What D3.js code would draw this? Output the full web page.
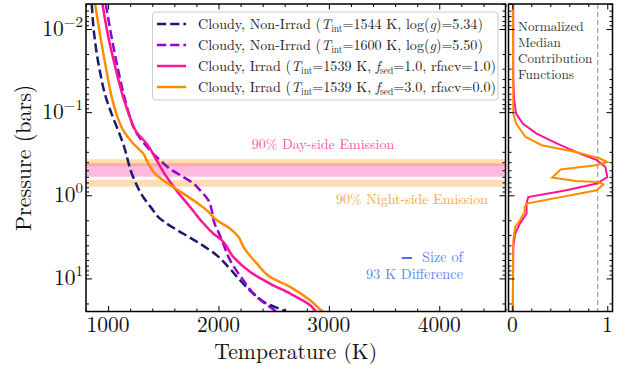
<!DOCTYPE html>
<html>
<head>
<meta charset="utf-8">
<script src="https://cdn.jsdelivr.net/npm/d3@7"></script>
<style>
    body { margin: 0; background: #fff; }
</style>
</head>
<body>
<svg id="chart" width="626" height="365"></svg>
<script>
'use strict';

// ---- data ----
var tempDomain = [800, 4600];
var pressureDomain = [0.005, 25];
var cfDomain = [-0.04, 1.055];

var tempTicks = [1000, 2000, 3000, 4000];
var pressureTicks = [0.01, 0.1, 1, 10];
var pressureExponents = ['\u22122', '\u22121', '0', '1'];
var cfTicks = [0, 1];
var cfMinorTicks = [0.2, 0.4, 0.6, 0.8];

var nonIrrad1544T = [852, 873, 918, 988, 1031, 1136, 1227, 1318, 1409, 1455, 1531, 1682, 1834, 1985, 2091, 2197, 2318, 2440, 2591, 2620];
var nonIrrad1544P = [0.005, 0.0112, 0.0284, 0.0718, 0.104, 0.238, 0.603, 1.05, 1.52, 1.83, 2.19, 2.90, 3.83, 5.28, 7.31, 10.6, 15.3, 20.2, 24.3, 25.5];

var nonIrrad1600T = [979, 1025, 1085, 1155, 1197, 1258, 1304, 1379, 1470, 1579, 1682, 1772, 1834, 1909, 1943, 1961, 2000, 2031, 2106, 2227, 2349, 2470, 2525, 2560];
var nonIrrad1600P = [0.005, 0.0112, 0.0284, 0.0718, 0.114, 0.179, 0.218, 0.287, 0.378, 0.500, 0.603, 0.718, 0.871, 1.15, 1.60, 2.12, 2.79, 3.48, 6.08, 10.6, 16.8, 22.2, 25.0, 26.5];

var irradFsed1T = [949, 995, 1064, 1145, 1197, 1258, 1349, 1440, 1531, 1630, 1743, 1840, 1955, 2031, 2136, 2288, 2470, 2652, 2834, 2895, 2930];
var irradFsed1P = [0.005, 0.0112, 0.0284, 0.0718, 0.114, 0.174, 0.238, 0.380, 0.603, 0.912, 1.38, 2.00, 2.90, 3.48, 5.55, 8.39, 11.6, 15.3, 21.2, 25.5, 27];

var irradFsed3T = [882, 925, 979, 1040, 1085, 1136, 1227, 1318, 1364, 1425, 1500, 1636, 1773, 1895, 1985, 2106, 2182, 2227, 2349, 2470, 2652, 2834, 2955, 2990];
var irradFsed3P = [0.005, 0.0112, 0.0284, 0.0718, 0.114, 0.165, 0.238, 0.315, 0.415, 0.548, 0.661, 0.871, 1.15, 1.52, 2.00, 2.52, 3.18, 4.20, 6.65, 9.64, 12.7, 18.4, 25.5, 27];

var cfFsed1P = [0.005, 0.0379, 0.0718, 0.104, 0.137, 0.181, 0.238, 0.315, 0.378, 0.456, 0.603, 0.723, 0.871, 1.05, 1.26, 1.66, 2.19, 2.90, 4.20, 25];
var cfFsed1 = [0.01, 0.01, 0.02, 0.04, 0.11, 0.256, 0.467, 0.712, 0.89, 0.98, 1.0, 0.89, 0.57, 0.168, 0.15, 0.15, 0.08, 0.03, 0.01, 0.005];

var cfFsed3P = [0.005, 0.103, 0.137, 0.199, 0.250, 0.301, 0.361, 0.397, 0.436, 0.490, 0.612, 0.673, 0.692, 0.738, 0.871, 1.26, 1.38, 1.59, 2.00, 2.41, 3.48, 25];
var cfFsed3 = [0.005, 0.01, 0.04, 0.14, 0.31, 0.67, 0.92, 1.0, 0.88, 0.51, 0.42, 0.67, 0.90, 0.96, 0.89, 0.15, 0.13, 0.13, 0.08, 0.03, 0.01, 0.005];
var cfThreshold = 0.9;

var dayBand = [0.413, 0.598];
var nightBand = [0.405, 0.719];
var diffStartT = 3660, diffSizeT = 93;

var legendLabels = [
    [['Cloudy, Non-Irrad ('], ['T', 'i'], ['int', 'sub'], ['=1544 K, log('], ['g', 'i'], [')=5.34)']],
    [['Cloudy, Non-Irrad ('], ['T', 'i'], ['int', 'sub'], ['=1600 K, log('], ['g', 'i'], [')=5.50)']],
    [['Cloudy, Irrad ('], ['T', 'i'], ['int', 'sub'], ['=1539 K, '], ['f', 'i'], ['sed', 'sub'], ['=1.0, rfacv=1.0)']],
    [['Cloudy, Irrad ('], ['T', 'i'], ['int', 'sub'], ['=1539 K, '], ['f', 'i'], ['sed', 'sub'], ['=3.0, rfacv=0.0)']]
];
var cfTitle = ['Normalized', 'Median', 'Contribution', 'Functions'];

// ---- drawing ----
var FONT = '"Latin Modern Roman", "Liberation Serif", serif';
var svg = d3.select('#chart');
var main = { left: 86, right: 505.5, top: 4, bottom: 311.5 },
    side = { left: 508.5, right: 612.5 };

var x = d3.scaleLinear().domain(tempDomain).range([main.left, main.right]);
var y = d3.scaleLog().domain(pressureDomain).range([main.top, main.bottom]);
var xcf = d3.scaleLinear().domain(cfDomain).range([side.left, side.right]);

var zip = function(a, b) {
    return a.map(function(v, i) { return { a: v, b: b[i] }; });
};

// every label goes through here so the serif face sticks
var label = function(parent, size, color) {
    return parent.append('text')
        .style('font-family', FONT)
        .style('font-size', size + 'px')
        .style('fill', color || '#111');
};

var series = [
    { t: nonIrrad1544T, p: nonIrrad1544P, color: '#1b1b6e', dash: '9.2,4' },
    { t: nonIrrad1600T, p: nonIrrad1600P, color: '#9400d3', dash: '9.2,4' },
    { t: irradFsed1T, p: irradFsed1P, color: '#ff1493', dash: null },
    { t: irradFsed3T, p: irradFsed3P, color: '#ff8c00', dash: null }
];

var defs = svg.append('defs');
defs.append('clipPath').attr('id', 'clipMain').append('rect')
    .attr('x', main.left).attr('y', main.top)
    .attr('width', main.right - main.left).attr('height', main.bottom - main.top);
defs.append('clipPath').attr('id', 'clipSide').append('rect')
    .attr('x', side.left).attr('y', main.top)
    .attr('width', side.right - side.left).attr('height', main.bottom - main.top);

// bands
var gBands = svg.append('g').attr('clip-path', 'url(#clipMain)');
gBands.append('rect')
    .attr('x', main.left).attr('width', main.right - main.left)
    .attr('y', y(dayBand[0])).attr('height', y(dayBand[1]) - y(dayBand[0]))
    .attr('fill', '#ff1493').attr('fill-opacity', 0.3);
gBands.selectAll('line.night').data(nightBand).enter().append('line')
    .attr('x1', main.left).attr('x2', main.right)
    .attr('y1', function(d) { return y(d); }).attr('y2', function(d) { return y(d); })
    .attr('stroke', '#ff8c00').attr('stroke-opacity', 0.3).attr('stroke-width', 6.7);

// profiles
var line = d3.line()
    .x(function(d) { return x(d.a); })
    .y(function(d) { return y(d.b); })
    .curve(d3.curveMonotoneY);

var gLines = svg.append('g').attr('clip-path', 'url(#clipMain)');
series.forEach(function(s) {
    gLines.append('path')
        .attr('d', line(zip(s.t, s.p)))
        .attr('fill', 'none')
        .attr('stroke', s.color)
        .attr('stroke-width', 2.5)
        .attr('stroke-dasharray', s.dash);
});

// contribution functions
var cfLine = d3.line()
    .x(function(d) { return xcf(d.a); })
    .y(function(d) { return y(d.b); });

var gCf = svg.append('g').attr('clip-path', 'url(#clipSide)');
gCf.append('line')
    .attr('x1', xcf(cfThreshold)).attr('x2', xcf(cfThreshold))
    .attr('y1', main.top).attr('y2', main.bottom)
    .attr('stroke', '#888').attr('stroke-width', 1).attr('stroke-dasharray', '5,3');
gCf.append('path').attr('d', cfLine(zip(cfFsed1, cfFsed1P)))
    .attr('fill', 'none').attr('stroke', '#ff1493').attr('stroke-width', 2);
gCf.append('path').attr('d', cfLine(zip(cfFsed3, cfFsed3P)))
    .attr('fill', 'none').attr('stroke', '#ff8c00').attr('stroke-width', 2);

// ticks
var minorLog = [];
[-3, -2, -1, 0, 1].forEach(function(e) {
    for (var m = 2; m < 10; m++) {
        var v = m * Math.pow(10, e);
        if (v >= pressureDomain[0] && v <= pressureDomain[1]) minorLog.push(v);
    }
});
var tempMinor = d3.range(800, 4601, 200).filter(function(v) { return v % 1000 !== 0; });

var addTicks = function(axis, values, size, tx, ty) {
    var g = svg.append('g')
        .attr('transform', 'translate(' + tx + ',' + ty + ')')
        .call(axis.tickValues(values).tickSize(size).tickFormat(''));
    g.select('.domain').remove();
    g.selectAll('line').attr('stroke', '#000').attr('stroke-width', 1);
    return g;
};

addTicks(d3.axisBottom(x), tempTicks, -5.5, 0, main.bottom);
addTicks(d3.axisBottom(x), tempMinor, -3, 0, main.bottom);
addTicks(d3.axisTop(x), tempTicks, -5.5, 0, main.top);
addTicks(d3.axisTop(x), tempMinor, -3, 0, main.top);
addTicks(d3.axisLeft(y), pressureTicks, -6, main.left, 0);
addTicks(d3.axisLeft(y), minorLog, -3, main.left, 0);
addTicks(d3.axisRight(y), pressureTicks, -6, main.right, 0);
addTicks(d3.axisRight(y), minorLog, -3, main.right, 0);

addTicks(d3.axisBottom(xcf), cfTicks, -5.5, 0, main.bottom);
addTicks(d3.axisBottom(xcf), cfMinorTicks, -3, 0, main.bottom);
addTicks(d3.axisTop(xcf), cfTicks, -5.5, 0, main.top);
addTicks(d3.axisTop(xcf), cfMinorTicks, -3, 0, main.top);
addTicks(d3.axisLeft(y), pressureTicks, -6, side.left, 0);
addTicks(d3.axisLeft(y), minorLog, -3, side.left, 0);
addTicks(d3.axisRight(y), pressureTicks, -6, side.right, 0);
addTicks(d3.axisRight(y), minorLog, -3, side.right, 0);

// frames
[[main.left, main.right], [side.left, side.right]].forEach(function(r) {
    svg.append('rect')
        .attr('x', r[0]).attr('y', main.top)
        .attr('width', r[1] - r[0]).attr('height', main.bottom - main.top)
        .attr('fill', 'none').attr('stroke', '#000').attr('stroke-width', 1.5);
});

// tick labels
tempTicks.forEach(function(v) {
    label(svg, 21.5).attr('x', x(v)).attr('y', main.bottom + 20.5)
        .attr('text-anchor', 'middle').text(v);
});
cfTicks.forEach(function(v) {
    label(svg, 21.5).attr('x', xcf(v)).attr('y', main.bottom + 20.5)
        .attr('text-anchor', 'middle').text(v);
});
pressureTicks.forEach(function(v, i) {
    var t = label(svg, 21.5).attr('x', main.left - 3).attr('y', y(v) + 7)
        .attr('text-anchor', 'end');
    t.append('tspan').text('10');
    t.append('tspan').attr('dy', -9).style('font-size', '15px').text(pressureExponents[i]);
});

// axis titles
label(svg, 22)
    .attr('transform', 'translate(31,' + ((main.top + main.bottom) / 2) + ') rotate(-90)')
    .attr('text-anchor', 'middle')
    .text('Pressure (bars)');
label(svg, 21.7)
    .attr('x', (main.left + main.right) / 2).attr('y', 359)
    .attr('text-anchor', 'middle')
    .text('Temperature (K)');

// annotations
label(svg, 14, '#ff4fa7').attr('x', 323).attr('y', 149).attr('text-anchor', 'middle')
    .text('90% Day-side Emission');
label(svg, 14, '#ffa53a').attr('x', 412).attr('y', 204).attr('text-anchor', 'middle')
    .text('90% Night-side Emission');

svg.append('line')
    .attr('x1', x(diffStartT)).attr('x2', x(diffStartT + diffSizeT))
    .attr('y1', 258).attr('y2', 258)
    .attr('stroke', '#4f6ff0').attr('stroke-width', 2);
label(svg, 14.3, '#6383ee').attr('x', 463).attr('y', 262).attr('text-anchor', 'end')
    .text('Size of');
label(svg, 14.3, '#6383ee').attr('x', 463).attr('y', 278.5).attr('text-anchor', 'end')
    .text('93 K Difference');

cfTitle.forEach(function(d, i) {
    label(svg, 13.2, '#333').attr('x', 518).attr('y', 31 + i * 16).text(d);
});

// legend
var legend = svg.append('g');
legend.append('rect')
    .attr('x', 152.5).attr('y', 12).attr('width', 345.5).attr('height', 88)
    .attr('rx', 3).attr('fill', '#fff').attr('fill-opacity', 0.85)
    .attr('stroke', '#ccc').attr('stroke-width', 1);

series.forEach(function(s, i) {
    var cy = 24 + i * 21;
    legend.append('line')
        .attr('x1', 157).attr('x2', 186).attr('y1', cy).attr('y2', cy)
        .attr('stroke', s.color).attr('stroke-width', 2.5)
        .attr('stroke-dasharray', s.dash);
    var t = label(legend, 14.1, '#222').attr('x', 198).attr('y', cy + 5);
    var shifted = false;
    legendLabels[i].forEach(function(part) {
        var ts = t.append('tspan').text(part[0]);
        if (part[1] === 'i') ts.style('font-style', 'italic');
        if (part[1] === 'sub') {
            ts.style('font-size', '9.5px').attr('dy', 3);
            shifted = true;
        } else if (shifted) {
            ts.attr('dy', -3);
            shifted = false;
        }
    });
});
</script>
</body>
</html>
